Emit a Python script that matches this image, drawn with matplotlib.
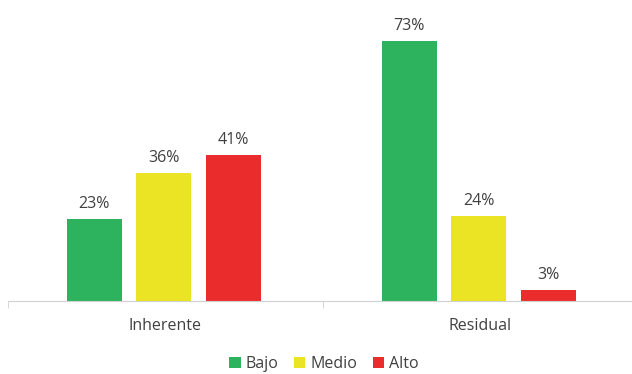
import numpy as np
import matplotlib.pyplot as plt

categories = ['Inherente', 'Residual']
series = ['Bajo', 'Medio', 'Alto']
bajo = [23, 73]
medio = [36, 24]
alto = [41, 3]
colors = ['#2db35d', '#ebe424', '#eb2c2c']

plt.rcParams['font.family'] = ['Open Sans', 'DejaVu Sans']

fig = plt.figure(figsize=(6.32, 3.74), dpi=100)
ax = fig.add_axes([8 / 632, 73 / 374, 630 / 632, 285 / 374])

x = np.arange(len(categories))
width = 0.175
step = 0.221
for i, (name, vals, col) in enumerate(zip(series, [bajo, medio, alto], colors)):
    bars = ax.bar(x + (i - 1) * step - 0.005, vals, width, color=col, label=name)
    for b, v in zip(bars, vals):
        ax.annotate(f'{v}%', (b.get_x() + b.get_width() / 2, v),
                    xytext=(0, 5), textcoords='offset points',
                    ha='center', va='bottom', fontsize=11.5,
                    color='#404040')

ax.set_xlim(-0.5, 1.5)
ax.set_ylim(0, 80)
ax.set_xticks(x)
ax.set_xticklabels(categories, fontsize=11.5, color='#404040')
ax.set_xticks([-0.5, 0.5, 1.5], minor=True)
ax.tick_params(axis='x', which='major', length=0, pad=12)
ax.tick_params(axis='x', which='minor', length=5, color='#d0d0d0')
ax.set_yticks([])
for s in ['top', 'right', 'left']:
    ax.spines[s].set_visible(False)
ax.spines['bottom'].set_color('#d0d0d0')

fig.legend(loc='center', bbox_to_anchor=(324 / 632, 1 - 364 / 374), ncol=3,
           frameon=False, fontsize=11.5, handlelength=0.7, handleheight=0.7,
           handletextpad=0.3, columnspacing=1.0, labelcolor='#404040')

fig.savefig('out.png', dpi=100)
